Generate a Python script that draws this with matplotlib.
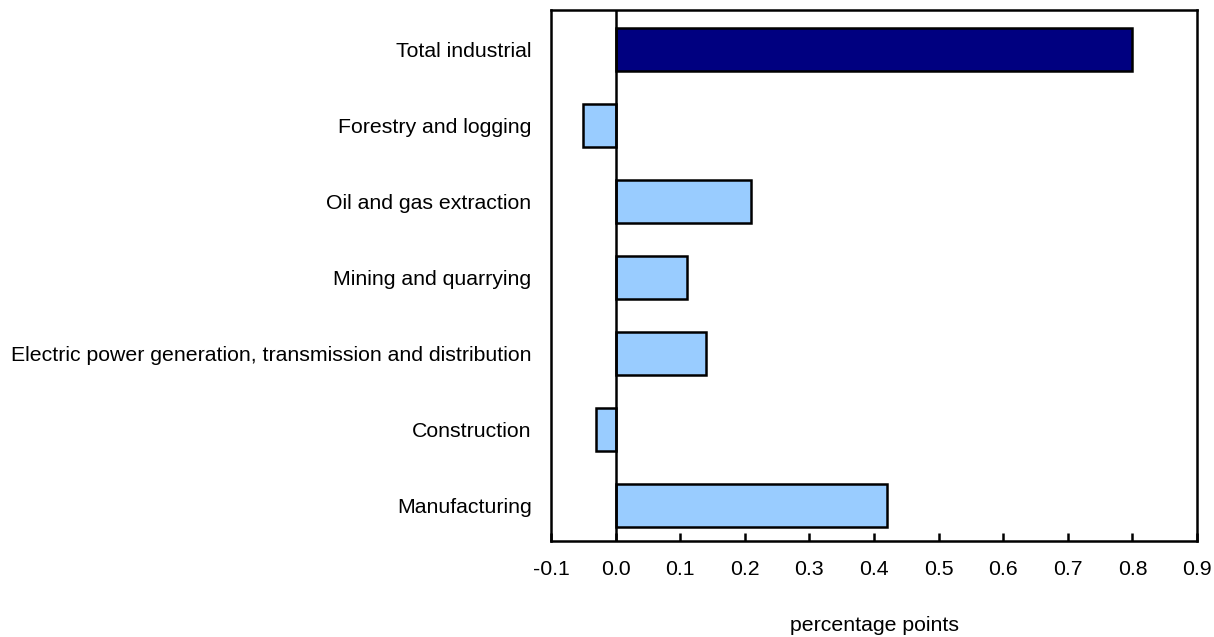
import matplotlib
matplotlib.use("Agg")
import matplotlib.pyplot as plt

categories = ["Total industrial", "Forestry and logging", "Oil and gas extraction",
              "Mining and quarrying",
              "Electric power generation, transmission and distribution",
              "Construction", "Manufacturing"]
values = [0.80, -0.05, 0.21, 0.11, 0.14, -0.03, 0.42]
colors = ["#000080"] + ["#99CCFF"] * 6
xticks = [-0.1, 0.0, 0.1, 0.2, 0.3, 0.4, 0.5, 0.6, 0.7, 0.8, 0.9]

plt.rcParams["font.family"] = ["Liberation Sans", "DejaVu Sans"]
fig = plt.figure(figsize=(12.14, 6.37), dpi=100)
ax = fig.add_axes([551 / 1214, 1 - 541 / 637, (1197 - 551) / 1214, (541 - 10) / 637])

ypos = list(range(len(categories)))
ax.barh(ypos, values, height=0.56, color=colors, edgecolor="black", linewidth=1.8, zorder=2)
ax.axvline(0, color="black", lw=1.8, zorder=3)

ax.set_xlim(-0.1, 0.9)
ax.set_ylim(6.47, -0.52)
ax.set_yticks(ypos)
ax.set_yticklabels(categories, fontsize=15.3)
ax.tick_params(axis="y", length=0, pad=14)
ax.set_xticks(xticks)
ax.set_xticklabels([f"{t:.1f}" for t in xticks], fontsize=15.3)
ax.tick_params(axis="x", direction="in", length=6, width=1.8, pad=14)
for s in ax.spines.values():
    s.set_linewidth(1.8)
ax.set_xlabel("percentage points", fontsize=15.3, labelpad=26)

fig.savefig("out.png", dpi=100)
